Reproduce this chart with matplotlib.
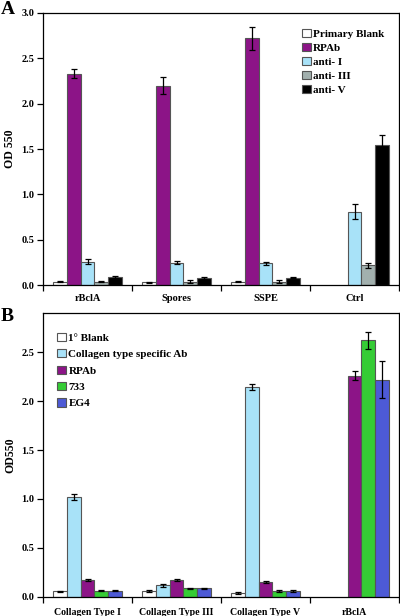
import numpy as np
import matplotlib
matplotlib.use("Agg")
import matplotlib.pyplot as plt

plt.rcParams['font.family'] = ['Liberation Serif', 'DejaVu Serif']
plt.rcParams['font.weight'] = 'bold'

# Panel A data
groups_a = ["rBclA", "Spores", "SSPE", "Ctrl"]
series_a = ["Primary Blank", "RPAb", "anti- I", "anti- III", "anti- V"]
values_a = [
    [0.04, 0.03, 0.04, np.nan],   # Primary Blank
    [2.33, 2.20, 2.72, np.nan],   # RPAb
    [0.26, 0.25, 0.24, 0.81],     # anti- I
    [0.04, 0.04, 0.04, 0.22],     # anti- III
    [0.09, 0.08, 0.08, 1.54],     # anti- V
]
errors_a = [
    [0.01, 0.005, 0.01, np.nan],
    [0.05, 0.09, 0.13, np.nan],
    [0.025, 0.015, 0.02, 0.08],
    [0.01, 0.015, 0.015, 0.03],
    [0.01, 0.01, 0.005, 0.11],
]
colors_a = ["white", "#8c1487", "#a8e2f8", "#a2b0ae", "black"]

# Panel B data
groups_b = ["Collagen Type I", "Collagen Type III", "Collagen Type V", "rBclA"]
series_b = ["1° Blank", "Collagen type specific Ab", "RPAb", "733", "EG4"]
values_b = [
    [0.06, 0.06, 0.04, np.nan],
    [1.02, 0.12, 2.14, np.nan],
    [0.17, 0.17, 0.15, 2.26],
    [0.065, 0.09, 0.06, 2.62],
    [0.065, 0.09, 0.06, 2.22],
]
errors_b = [
    [0.005, 0.008, 0.008, np.nan],
    [0.03, 0.015, 0.03, np.nan],
    [0.008, 0.01, 0.008, 0.05],
    [0.005, 0.005, 0.006, 0.09],
    [0.006, 0.006, 0.008, 0.19],
]
colors_b = ["white", "#a8e2f8", "#8c1487", "#35cc35", "#4d5ad6"]

fig = plt.figure(figsize=(4.0, 6.16), dpi=100)


def draw_panel(ax, groups, series, values, errors, colors, ylim, yticks, ylabel,
               leg_anchor, leg_spacing, xfont, xpad):
    x = np.arange(len(groups))
    width = 0.155
    for i, name in enumerate(series):
        pos = x + (i - 2) * width
        ax.bar(pos, values[i], width, color=colors[i], edgecolor="#555555",
               linewidth=0.8, label=name, zorder=2)
        ax.errorbar(pos, values[i], yerr=errors[i], fmt="none", ecolor="black",
                    elinewidth=0.9, capsize=2, capthick=0.9, zorder=3)
    ax.set_xlim(-0.5, len(groups) - 0.5)
    ax.set_ylim(*ylim)
    ax.set_yticks(yticks)
    ax.set_yticklabels([f"{t:.1f}" for t in yticks], fontsize=7.5, fontweight="bold")
    ax.set_xticks(np.arange(len(groups) + 1) - 0.5)
    ax.set_xticklabels([])
    ax.set_xticks(x, minor=True)
    ax.set_xticklabels(groups, minor=True, fontsize=xfont, fontweight="bold")
    ax.tick_params(axis="x", which="minor", length=0, pad=xpad)
    ax.tick_params(axis="x", which="major", length=4, width=0.9, direction="out")
    ax.tick_params(axis="y", length=4, width=0.9, direction="out", pad=2)
    ax.set_ylabel(ylabel, fontsize=8.5, fontweight="bold", labelpad=4)
    for s in ax.spines.values():
        s.set_linewidth(0.9)
    leg = ax.legend(loc="upper left", bbox_to_anchor=leg_anchor, frameon=False,
                    fontsize=8, handlelength=0.75, handleheight=0.75,
                    handletextpad=0.25, labelspacing=leg_spacing,
                    borderaxespad=0, borderpad=0)
    for t in leg.get_texts():
        t.set_fontweight("bold")


ax_a = fig.add_axes([0.1075, 0.537, 0.89, 0.442])
draw_panel(ax_a, groups_a, series_a, values_a, errors_a, colors_a,
           (0, 3.0), np.arange(0, 3.01, 0.5), "OD 550",
           (0.728, 0.94), 0.35, 7.5, 6)

ax_b = fig.add_axes([0.1075, 0.031, 0.89, 0.461])
draw_panel(ax_b, groups_b, series_b, values_b, errors_b, colors_b,
           (0, 2.9), np.arange(0, 2.51, 0.5), "OD550",
           (0.04, 0.93), 0.58, 7.1, 8)

fig.text(0.002, 0.998, "A", fontsize=14, fontweight="bold", va="top", ha="left")
fig.text(0.002, 0.500, "B", fontsize=14, fontweight="bold", va="top", ha="left")

fig.savefig("out.png", dpi=100)
